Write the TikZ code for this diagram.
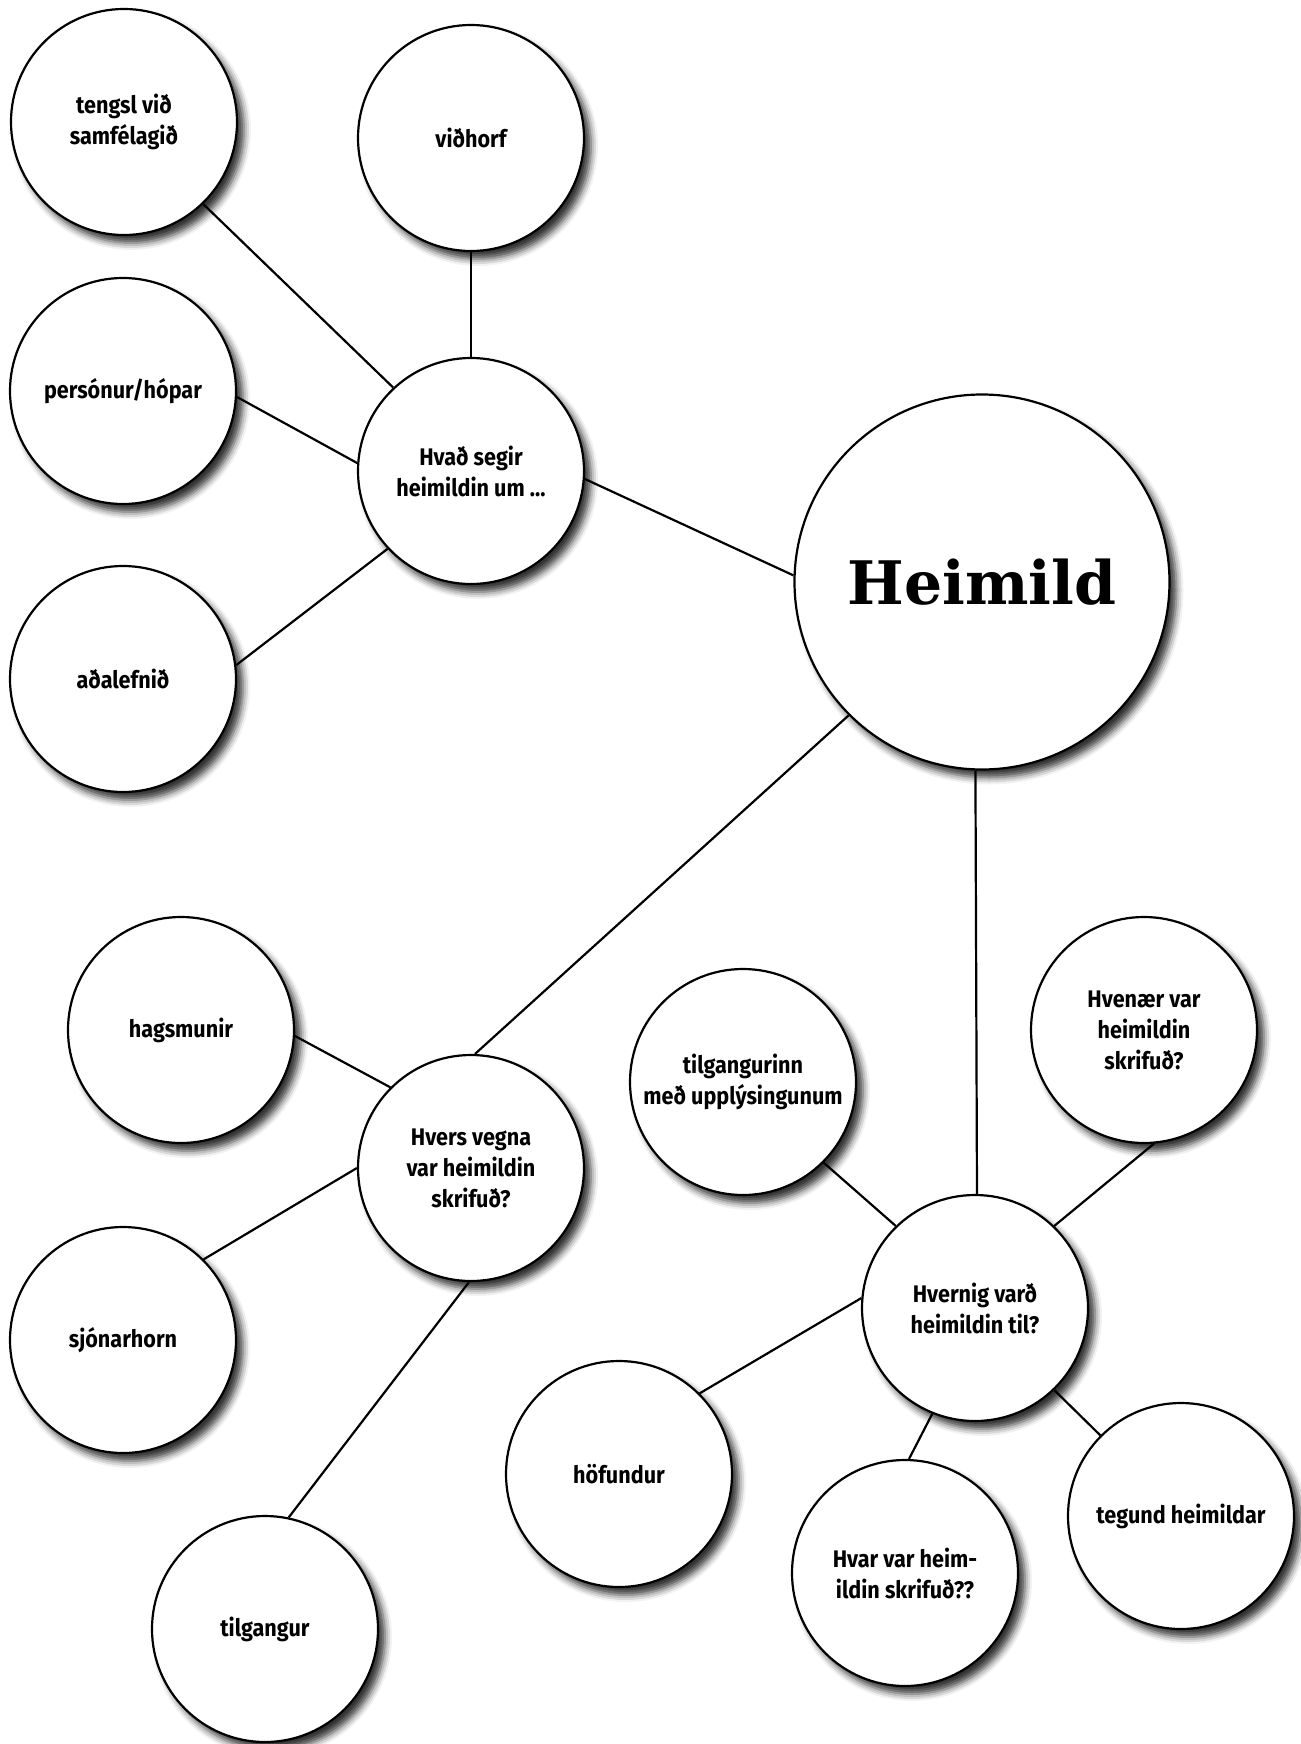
\documentclass[tikz,border=0pt]{standalone}
\usepackage{fontspec}
\setmainfont{Fira Sans}[FakeStretch=0.9]
\newfontfamily\titlefont{DejaVu Serif}
\usetikzlibrary{shadows.blur}

\begin{document}
\begin{tikzpicture}[x=0.5pt,y=-0.5pt,
  bubble/.style={circle, draw, line width=1.1pt, fill=white, minimum size=113pt,
    inner sep=0pt, align=center, font=\bfseries\fontsize{12}{15.5}\selectfont,
    blur shadow={shadow xshift=3.5pt, shadow yshift=-4pt, shadow blur radius=3.5pt, shadow opacity=80}},
  link/.style={line width=1.1pt}]
\useasboundingbox (0,0) rectangle (1300,1744);

% top group
\node[bubble] (tengsl) at (124,122) {tengsl við\\samfélagið};
\node[bubble] (vidhorf) at (471,138) {viðhorf};
\node[bubble] (personur) at (123,391) {persónur/hópar};
\node[bubble] (hvad) at (471,471) {Hvað segir\\heimildin um ...};
\node[bubble] (adalefnid) at (123,679) {aðalefnið};

% centre
\node[bubble, minimum size=187.5pt, font=\titlefont\bfseries\fontsize{30}{30}\selectfont] (heimild) at (982,582) {Heimild};

% lower left group
\node[bubble] (hagsmunir) at (181,1030) {hagsmunir};
\node[bubble] (hvers) at (471,1168) {Hvers vegna\\var heimildin\\skrifuð?};
\node[bubble] (sjonarhorn) at (123,1340) {sjónarhorn};
\node[bubble] (tilgangur) at (265,1629) {tilgangur};

% lower right group
\node[bubble] (tilgangurinn) at (743,1082) {tilgangurinn\\með upplýsingunum};
\node[bubble] (hvenaer) at (1144,1030) {Hvenær var\\heimildin\\skrifuð?};
\node[bubble] (hvernig) at (975,1308) {Hvernig varð\\heimildin til?};
\node[bubble] (hofundur) at (619,1474) {höfundur};
\node[bubble] (hvar) at (905,1573) {Hvar var heim-\\ildin skrifuð??};
\node[bubble] (tegund) at (1181,1516) {tegund heimildar};

\draw[link] (tengsl.-46) -- (hvad.133);
\draw[link] (vidhorf.-90) -- (hvad.90);
\draw[link] (personur.-3) -- (hvad.176);
\draw[link] (adalefnid.7) -- (hvad.223);
\draw[link] (hvad.-4) -- (heimild.178);
\draw[link] (heimild.225) -- (hvers.88);
\draw[link] (heimild.268) -- (hvernig.89);
\draw[link] (hagsmunir.-3) -- (hvers.135);
\draw[link] (sjonarhorn.45) -- (hvers.180);
\draw[link] (tilgangur.78) -- (hvers.269);
\draw[link] (tilgangurinn.-45) -- (hvernig.134);
\draw[link] (hvenaer.-85) -- (hvernig.46);
\draw[link] (hofundur.45) -- (hvernig.175);
\draw[link] (hvar.88) -- (hvernig.248);
\draw[link] (tegund.135) -- (hvernig.-46);
\end{tikzpicture}
\end{document}
